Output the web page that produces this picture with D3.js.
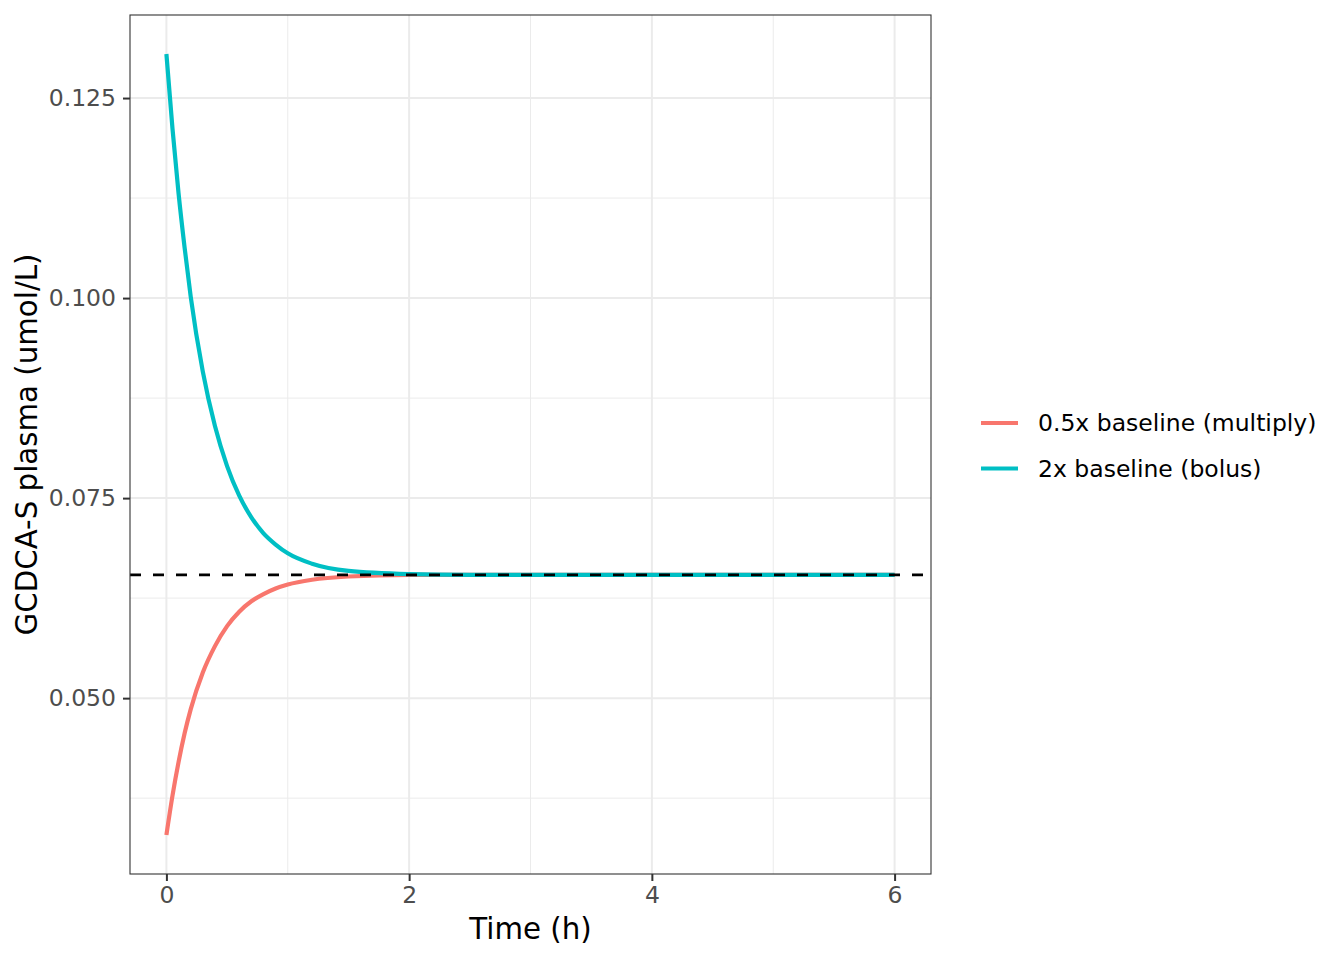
<!DOCTYPE html>
<html>
<head>
<meta charset="utf-8">
<script src="https://cdn.jsdelivr.net/npm/d3@7"></script>
<style>
  body { margin: 0; background: #fff; }
  svg { font-family: "DejaVu Sans", sans-serif; }
</style>
</head>
<body>
<div id="chart"></div>
<script>
// time points (h)
const times = [0, 0.05, 0.1, 0.15, 0.2, 0.3, 0.4, 0.5, 0.6, 0.7, 0.8, 0.9, 1.0, 1.2, 1.5, 2, 2.5, 3, 4, 5, 6];
// GCDCA-S plasma (umol/L)
const halfBaseline = [0.0329, 0.0378, 0.0420, 0.0456, 0.0486, 0.0532, 0.0565, 0.0590, 0.0608, 0.0621, 0.0630, 0.0637, 0.0642, 0.0648, 0.0652, 0.0654, 0.0654, 0.0654, 0.0654, 0.0654, 0.0654];
const twoxBaseline = [0.1305, 0.1212, 0.1131, 0.1063, 0.1002, 0.0908, 0.0840, 0.0790, 0.0753, 0.0726, 0.0706, 0.0692, 0.0681, 0.0668, 0.0659, 0.0655, 0.0654, 0.0654, 0.0654, 0.0654, 0.0654];
const baseline = 0.0654;

const seriesNames = ["0.5x baseline (multiply)", "2x baseline (bolus)"];
const seriesColors = ["#F8766D", "#00BFC4"];
const xTicks = [0, 2, 4, 6];
const xMinor = [1, 3, 5];
const yTicks = [0.050, 0.075, 0.100, 0.125];
const yMinor = [0.0375, 0.0625, 0.0875, 0.1125];

const W = 1344, H = 960;
const panel = { left: 130, top: 15, right: 931, bottom: 874 };

const svg = d3.select("#chart").append("svg")
    .attr("width", W).attr("height", H);

// -------- Scales (ggplot 5% expansion) --------
const xExt = d3.extent(times), xPad = (xExt[1] - xExt[0]) * 0.05;
const x = d3.scaleLinear().domain([xExt[0] - xPad, xExt[1] + xPad]).range([panel.left, panel.right]);
const yExt = d3.extent(halfBaseline.concat(twoxBaseline)), yPad = (yExt[1] - yExt[0]) * 0.05;
const y = d3.scaleLinear().domain([yExt[0] - yPad, yExt[1] + yPad]).range([panel.bottom, panel.top]);

// -------- Grid --------
const grid = svg.append("g");
grid.selectAll(".ymin").data(yMinor).join("line")
    .attr("x1", panel.left).attr("x2", panel.right)
    .attr("y1", d => y(d)).attr("y2", d => y(d))
    .attr("stroke", "#EBEBEB").attr("stroke-width", 1);
grid.selectAll(".xmin").data(xMinor).join("line")
    .attr("y1", panel.top).attr("y2", panel.bottom)
    .attr("x1", d => x(d)).attr("x2", d => x(d))
    .attr("stroke", "#EBEBEB").attr("stroke-width", 1);
grid.selectAll(".ymaj").data(yTicks).join("line")
    .attr("x1", panel.left).attr("x2", panel.right)
    .attr("y1", d => y(d)).attr("y2", d => y(d))
    .attr("stroke", "#EBEBEB").attr("stroke-width", 2);
grid.selectAll(".xmaj").data(xTicks).join("line")
    .attr("y1", panel.top).attr("y2", panel.bottom)
    .attr("x1", d => x(d)).attr("x2", d => x(d))
    .attr("stroke", "#EBEBEB").attr("stroke-width", 2);

// -------- Lines --------
const line = d3.line()
    .x(d => x(d[0]))
    .y(d => y(d[1]))
    .curve(d3.curveMonotoneX);

[halfBaseline, twoxBaseline].forEach((vals, i) => {
    svg.append("path")
        .datum(times.map((t, k) => [t, vals[k]]))
        .attr("fill", "none")
        .attr("stroke", seriesColors[i])
        .attr("stroke-width", 4.2)
        .attr("d", line);
});

// dashed baseline
svg.append("line")
    .attr("x1", panel.left).attr("x2", panel.right)
    .attr("y1", y(baseline)).attr("y2", y(baseline))
    .attr("stroke", "#000").attr("stroke-width", 2.8)
    .attr("stroke-dasharray", "11 12");

// panel border
svg.append("rect")
    .attr("x", panel.left).attr("y", panel.top)
    .attr("width", panel.right - panel.left).attr("height", panel.bottom - panel.top)
    .attr("fill", "none").attr("stroke", "#333333").attr("stroke-width", 1.1);

// -------- Axes --------
const xAxis = svg.append("g")
    .attr("transform", `translate(0,${panel.bottom})`)
    .call(d3.axisBottom(x).tickValues(xTicks).tickSize(7).tickPadding(5).tickFormat(d3.format("d")));
const yAxis = svg.append("g")
    .attr("transform", `translate(${panel.left},0)`)
    .call(d3.axisLeft(y).tickValues(yTicks).tickSize(7).tickPadding(7).tickFormat(d3.format(".3f")));

[xAxis, yAxis].forEach(g => {
    g.select(".domain").remove();
    g.selectAll(".tick line").attr("stroke", "#333333").attr("stroke-width", 2);
    g.selectAll(".tick text")
        .attr("fill", "#4D4D4D")
        .attr("font-size", 23.5)
        .attr("font-family", "DejaVu Sans");
});

// -------- Titles --------
svg.append("text")
    .attr("x", (panel.left + panel.right) / 2)
    .attr("y", 939)
    .attr("text-anchor", "middle")
    .attr("font-size", 29.3)
    .attr("fill", "#000")
    .text("Time (h)");

svg.append("text")
    .attr("transform", `translate(37,${(panel.top + panel.bottom) / 2}) rotate(-90)`)
    .attr("text-anchor", "middle")
    .attr("font-size", 29.3)
    .attr("fill", "#000")
    .text("GCDCA-S plasma (umol/L)");

// -------- Legend --------
const legend = svg.append("g");
seriesNames.forEach((name, i) => {
    const ly = 423 + i * 45.5;
    legend.append("line")
        .attr("x1", 981).attr("x2", 1018)
        .attr("y1", ly).attr("y2", ly)
        .attr("stroke", seriesColors[i]).attr("stroke-width", 4.2);
    legend.append("text")
        .attr("x", 1038).attr("y", ly)
        .attr("dy", "0.36em")
        .attr("font-size", 23.5)
        .attr("fill", "#000")
        .text(name);
});
</script>
</body>
</html>
